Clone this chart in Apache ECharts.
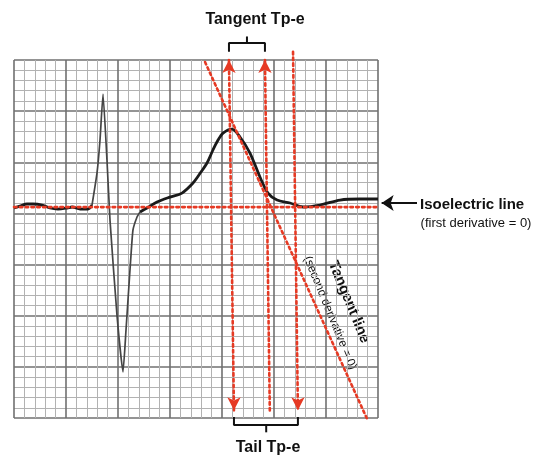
<!DOCTYPE html>
<html>
<head>
<meta charset="utf-8">
<script src="https://cdn.jsdelivr.net/npm/echarts@6/dist/echarts.min.js"></script>
<style>
html,body{margin:0;padding:0;background:#fff;}
#c{width:545px;height:456px;}
</style>
</head>
<body>
<div id="c"></div>
<script>
// ECG trace in small-box units (x: time boxes, y: amplitude boxes, 0 = major line under isoelectric)
var ecgTrace = [
  [0, 0.53], [0.58, 0.72], [1.25, 0.92], [1.83, 0.92], [2.69, 0.82], [3.46, 0.53],
  [4.23, 0.43], [5.10, 0.53], [5.58, 0.63], [6.35, 0.43], [7.12, 0.43], [7.50, 0.82],
  [7.98, 3.95], [8.27, 7.18], [8.56, 11.67], [8.94, 5.22], [9.23, -0.65], [9.90, -9.93],
  [10.48, -15.5], [10.77, -11.4], [10.96, -8.47], [11.25, -4.07], [11.44, -1.62],
  [11.83, -0.35], [12.12, 0.14], [12.79, 0.53], [13.75, 1.11], [15.0, 1.60], [16.15, 1.99],
  [17.21, 2.97], [17.98, 4.05], [18.56, 4.93], [19.13, 6.20], [19.62, 7.17], [20.1, 7.86],
  [20.96, 8.25], [21.73, 7.47], [22.69, 5.90], [23.65, 3.56], [24.42, 1.99], [25.29, 1.31],
  [26.54, 1.02], [27.79, 0.63], [29.42, 0.82], [31.35, 1.31], [33.27, 1.41], [35.0, 1.41]
];
var qrsStart = 11, qrsEnd = 24;

var isoelectricY = 0.62;
var tangentLine = [[18.37, 14.8], [34.0, -20.2]];
var leftVertical = [[20.67, 15.0], [21.15, -19.25]];
var middleVertical = [[24.13, 15.0], [24.6, -19.5]];
var rightVertical = [[26.83, 15.8], [27.3, -19.25]];

var topBracket = [[20.67, 15.8], [20.67, 16.66], [24.13, 16.66], [24.13, 15.8]];
var topStem = [[22.4, 16.66], [22.4, 17.3]];
var bottomBracket = [[21.15, -19.9], [21.15, -20.68], [27.3, -20.68], [27.3, -19.9]];
var bottomStem = [[24.25, -20.68], [24.25, -21.4]];
var isoArrow = [[38.75, 1.02], [35.35, 1.02]];

var xRange = [0, 35];
var yRange = [-20, 15];

var chart = echarts.init(document.getElementById('c'), null, {renderer: 'canvas'});

var red = '#e63a24';
var dotStyle = {color: red, width: 2.6, type: [2.6, 3.2], cap: 'round'};

function arrowItem(pt, rot) {
  return {value: pt, symbol: 'arrow', symbolSize: [10, 13], symbolRotate: rot,
          itemStyle: {color: red}};
}
function plain(pt) { return {value: pt, symbol: 'none'}; }

var gridLine = {color: '#707070', width: 1.6};
var minorLine = {color: '#b2b2b2', width: 1};

var option = {
  backgroundColor: '#fff',
  animation: false,
  grid: {left: 14, right: 167, top: 60, bottom: 38, show: false},
  xAxis: {
    type: 'value', min: xRange[0], max: xRange[1], interval: 5,
    axisLine: {show: false}, axisTick: {show: false}, axisLabel: {show: false},
    splitLine: {show: true, lineStyle: gridLine},
    minorTick: {show: false, splitNumber: 5},
    minorSplitLine: {show: true, lineStyle: minorLine}
  },
  yAxis: {
    type: 'value', min: yRange[0], max: yRange[1], interval: 5,
    axisLine: {show: false}, axisTick: {show: false}, axisLabel: {show: false},
    splitLine: {show: true, lineStyle: gridLine},
    minorTick: {show: false, splitNumber: 5},
    minorSplitLine: {show: true, lineStyle: minorLine}
  },
  series: [
    {type: 'line', data: ecgTrace.slice(0, qrsStart + 1), showSymbol: false, smooth: 0.3,
     lineStyle: {color: '#1a1a1a', width: 2.8}, clip: false, z: 3},
    {type: 'line', data: ecgTrace.slice(qrsStart, qrsEnd + 1), showSymbol: false, smooth: 0.15,
     lineStyle: {color: '#454545', width: 1.7}, clip: false, z: 3},
    {type: 'line', data: ecgTrace.slice(qrsEnd), showSymbol: false, smooth: 0.3,
     lineStyle: {color: '#1a1a1a', width: 2.8}, clip: false, z: 3},
    {type: 'line', data: [plain([xRange[0], isoelectricY]), plain([xRange[1], isoelectricY])],
     lineStyle: dotStyle, clip: false, z: 4},
    {type: 'line', data: [plain(tangentLine[0]), plain(tangentLine[1])],
     lineStyle: dotStyle, clip: false, z: 4},
    {type: 'line', data: [arrowItem(leftVertical[0], 0), arrowItem(leftVertical[1], 180)],
     lineStyle: dotStyle, clip: false, z: 5, showAllSymbol: true},
    {type: 'line', data: [arrowItem(middleVertical[0], 0), plain(middleVertical[1])],
     lineStyle: dotStyle, clip: false, z: 5, showAllSymbol: true},
    {type: 'line', data: [plain(rightVertical[0]), arrowItem(rightVertical[1], 180)],
     lineStyle: dotStyle, clip: false, z: 5, showAllSymbol: true},
    {type: 'line', data: topBracket, showSymbol: false, lineStyle: {color: '#111', width: 2}, clip: false},
    {type: 'line', data: topStem, showSymbol: false, lineStyle: {color: '#111', width: 2}, clip: false},
    {type: 'line', data: bottomBracket, showSymbol: false, lineStyle: {color: '#111', width: 2}, clip: false},
    {type: 'line', data: bottomStem, showSymbol: false, lineStyle: {color: '#111', width: 2}, clip: false},
    {type: 'lines', coordinateSystem: 'cartesian2d', clip: false,
     data: [{coords: isoArrow}], symbol: ['none', 'arrow'], symbolSize: [9, 12],
     lineStyle: {color: '#111', width: 2.2, opacity: 1, curveness: 0}}
  ],
  graphic: [
    {type: 'text', x: 255, y: 20, style: {text: 'Tangent Tp-e', fill: '#111',
      font: 'bold 16px "Liberation Sans", Arial, sans-serif', align: 'center', verticalAlign: 'middle'}},
    {type: 'text', x: 268, y: 448, style: {text: 'Tail Tp-e', fill: '#111',
      font: 'bold 16px "Liberation Sans", Arial, sans-serif', align: 'center', verticalAlign: 'middle'}},
    {type: 'text', x: 420, y: 205, style: {text: 'Isoelectric line', fill: '#111',
      font: 'bold 15px "Liberation Sans", Arial, sans-serif', align: 'left', verticalAlign: 'middle'}},
    {type: 'text', x: 476, y: 223, style: {text: '(first derivative = 0)', fill: '#111',
      font: '13px "Liberation Sans", Arial, sans-serif', align: 'center', verticalAlign: 'middle'}},
    {type: 'text', x: 349, y: 302, rotation: -1.18, style: {text: 'Tangent line', fill: '#111',
      font: 'bold 15px "Liberation Sans", Arial, sans-serif', align: 'center', verticalAlign: 'middle'}},
    {type: 'text', x: 330, y: 313, rotation: -1.18, style: {text: '(second derivative = 0)', fill: '#111',
      font: '12px "Liberation Sans", Arial, sans-serif', align: 'center', verticalAlign: 'middle'}}
  ]
};
chart.setOption(option);
</script>
</body>
</html>
